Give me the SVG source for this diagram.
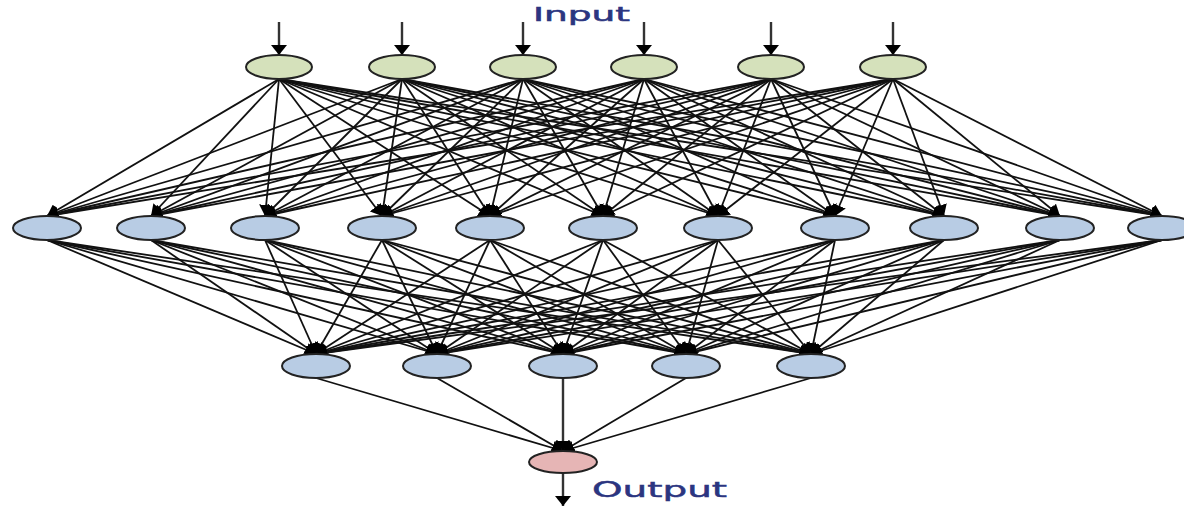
<svg xmlns="http://www.w3.org/2000/svg" width="1184" height="507" viewBox="0 0 1184 507">
<style>
.c line{stroke:#111;stroke-width:1.8;marker-end:url(#ah)}
.c line.io{stroke:#333;stroke-width:2.4;marker-end:url(#ahb)}
.n ellipse{stroke:#222;stroke-width:2}
.in{fill:#d5e1bb}
.hd{fill:#b8cce4}
.out{fill:#e6b5b5}
.lbl{font-family:"DejaVu Sans",Verdana,sans-serif;fill:#2b3580;stroke:#2b3580;stroke-width:0.5}
</style>
<defs>
<marker id="ah" markerUnits="userSpaceOnUse" markerWidth="11" markerHeight="14" refX="11" refY="7" orient="auto">
<path d="M0,0 L11,7 L0,14 z" fill="#000"/>
</marker>
<marker id="ahb" markerUnits="userSpaceOnUse" markerWidth="10" markerHeight="16" refX="10" refY="8" orient="auto">
<path d="M0,0 L10,8 L0,16 z" fill="#000"/>
</marker>
</defs>
<rect width="1184" height="507" fill="#fff"/>
<g id="connectors" class="c">
<line class="io" x1="279" y1="22" x2="279" y2="55"/>
<line class="io" x1="402" y1="22" x2="402" y2="55"/>
<line class="io" x1="523" y1="22" x2="523" y2="55"/>
<line class="io" x1="644" y1="22" x2="644" y2="55"/>
<line class="io" x1="771" y1="22" x2="771" y2="55"/>
<line class="io" x1="893" y1="22" x2="893" y2="55"/>

<line x1="279" y1="79" x2="47" y2="216"/><line x1="279" y1="79" x2="151" y2="216"/><line x1="279" y1="79" x2="265" y2="216"/><line x1="279" y1="79" x2="382" y2="216"/><line x1="279" y1="79" x2="490" y2="216"/><line x1="279" y1="79" x2="603" y2="216"/><line x1="279" y1="79" x2="718" y2="216"/><line x1="279" y1="79" x2="835" y2="216"/><line x1="279" y1="79" x2="944" y2="216"/><line x1="279" y1="79" x2="1060" y2="216"/><line x1="279" y1="79" x2="1162" y2="216"/>
<line x1="402" y1="79" x2="47" y2="216"/><line x1="402" y1="79" x2="151" y2="216"/><line x1="402" y1="79" x2="265" y2="216"/><line x1="402" y1="79" x2="382" y2="216"/><line x1="402" y1="79" x2="490" y2="216"/><line x1="402" y1="79" x2="603" y2="216"/><line x1="402" y1="79" x2="718" y2="216"/><line x1="402" y1="79" x2="835" y2="216"/><line x1="402" y1="79" x2="944" y2="216"/><line x1="402" y1="79" x2="1060" y2="216"/><line x1="402" y1="79" x2="1162" y2="216"/>
<line x1="523" y1="79" x2="47" y2="216"/><line x1="523" y1="79" x2="151" y2="216"/><line x1="523" y1="79" x2="265" y2="216"/><line x1="523" y1="79" x2="382" y2="216"/><line x1="523" y1="79" x2="490" y2="216"/><line x1="523" y1="79" x2="603" y2="216"/><line x1="523" y1="79" x2="718" y2="216"/><line x1="523" y1="79" x2="835" y2="216"/><line x1="523" y1="79" x2="944" y2="216"/><line x1="523" y1="79" x2="1060" y2="216"/><line x1="523" y1="79" x2="1162" y2="216"/>
<line x1="644" y1="79" x2="47" y2="216"/><line x1="644" y1="79" x2="151" y2="216"/><line x1="644" y1="79" x2="265" y2="216"/><line x1="644" y1="79" x2="382" y2="216"/><line x1="644" y1="79" x2="490" y2="216"/><line x1="644" y1="79" x2="603" y2="216"/><line x1="644" y1="79" x2="718" y2="216"/><line x1="644" y1="79" x2="835" y2="216"/><line x1="644" y1="79" x2="944" y2="216"/><line x1="644" y1="79" x2="1060" y2="216"/><line x1="644" y1="79" x2="1162" y2="216"/>
<line x1="771" y1="79" x2="47" y2="216"/><line x1="771" y1="79" x2="151" y2="216"/><line x1="771" y1="79" x2="265" y2="216"/><line x1="771" y1="79" x2="382" y2="216"/><line x1="771" y1="79" x2="490" y2="216"/><line x1="771" y1="79" x2="603" y2="216"/><line x1="771" y1="79" x2="718" y2="216"/><line x1="771" y1="79" x2="835" y2="216"/><line x1="771" y1="79" x2="944" y2="216"/><line x1="771" y1="79" x2="1060" y2="216"/><line x1="771" y1="79" x2="1162" y2="216"/>
<line x1="893" y1="79" x2="47" y2="216"/><line x1="893" y1="79" x2="151" y2="216"/><line x1="893" y1="79" x2="265" y2="216"/><line x1="893" y1="79" x2="382" y2="216"/><line x1="893" y1="79" x2="490" y2="216"/><line x1="893" y1="79" x2="603" y2="216"/><line x1="893" y1="79" x2="718" y2="216"/><line x1="893" y1="79" x2="835" y2="216"/><line x1="893" y1="79" x2="944" y2="216"/><line x1="893" y1="79" x2="1060" y2="216"/><line x1="893" y1="79" x2="1162" y2="216"/>

<line x1="47" y1="240" x2="316" y2="354"/><line x1="47" y1="240" x2="437" y2="354"/><line x1="47" y1="240" x2="563" y2="354"/><line x1="47" y1="240" x2="686" y2="354"/><line x1="47" y1="240" x2="811" y2="354"/>
<line x1="151" y1="240" x2="316" y2="354"/><line x1="151" y1="240" x2="437" y2="354"/><line x1="151" y1="240" x2="563" y2="354"/><line x1="151" y1="240" x2="686" y2="354"/><line x1="151" y1="240" x2="811" y2="354"/>
<line x1="265" y1="240" x2="316" y2="354"/><line x1="265" y1="240" x2="437" y2="354"/><line x1="265" y1="240" x2="563" y2="354"/><line x1="265" y1="240" x2="686" y2="354"/><line x1="265" y1="240" x2="811" y2="354"/>
<line x1="382" y1="240" x2="316" y2="354"/><line x1="382" y1="240" x2="437" y2="354"/><line x1="382" y1="240" x2="563" y2="354"/><line x1="382" y1="240" x2="686" y2="354"/><line x1="382" y1="240" x2="811" y2="354"/>
<line x1="490" y1="240" x2="316" y2="354"/><line x1="490" y1="240" x2="437" y2="354"/><line x1="490" y1="240" x2="563" y2="354"/><line x1="490" y1="240" x2="686" y2="354"/><line x1="490" y1="240" x2="811" y2="354"/>
<line x1="603" y1="240" x2="316" y2="354"/><line x1="603" y1="240" x2="437" y2="354"/><line x1="603" y1="240" x2="563" y2="354"/><line x1="603" y1="240" x2="686" y2="354"/><line x1="603" y1="240" x2="811" y2="354"/>
<line x1="718" y1="240" x2="316" y2="354"/><line x1="718" y1="240" x2="437" y2="354"/><line x1="718" y1="240" x2="563" y2="354"/><line x1="718" y1="240" x2="686" y2="354"/><line x1="718" y1="240" x2="811" y2="354"/>
<line x1="835" y1="240" x2="316" y2="354"/><line x1="835" y1="240" x2="437" y2="354"/><line x1="835" y1="240" x2="563" y2="354"/><line x1="835" y1="240" x2="686" y2="354"/><line x1="835" y1="240" x2="811" y2="354"/>
<line x1="944" y1="240" x2="316" y2="354"/><line x1="944" y1="240" x2="437" y2="354"/><line x1="944" y1="240" x2="563" y2="354"/><line x1="944" y1="240" x2="686" y2="354"/><line x1="944" y1="240" x2="811" y2="354"/>
<line x1="1060" y1="240" x2="316" y2="354"/><line x1="1060" y1="240" x2="437" y2="354"/><line x1="1060" y1="240" x2="563" y2="354"/><line x1="1060" y1="240" x2="686" y2="354"/><line x1="1060" y1="240" x2="811" y2="354"/>
<line x1="1162" y1="240" x2="316" y2="354"/><line x1="1162" y1="240" x2="437" y2="354"/><line x1="1162" y1="240" x2="563" y2="354"/><line x1="1162" y1="240" x2="686" y2="354"/><line x1="1162" y1="240" x2="811" y2="354"/>

<line x1="316" y1="378" x2="563" y2="451"/>
<line x1="437" y1="378" x2="563" y2="451"/>
<line class="io" x1="563" y1="378" x2="563" y2="451"/>
<line x1="686" y1="378" x2="563" y2="451"/>
<line x1="811" y1="378" x2="563" y2="451"/>

<line class="io" x1="563" y1="473" x2="563" y2="506"/>
</g>
<g id="input-layer" class="n">
<g id="in1"><ellipse class="in" cx="279" cy="67" rx="33" ry="12"/></g>
<g id="in2"><ellipse class="in" cx="402" cy="67" rx="33" ry="12"/></g>
<g id="in3"><ellipse class="in" cx="523" cy="67" rx="33" ry="12"/></g>
<g id="in4"><ellipse class="in" cx="644" cy="67" rx="33" ry="12"/></g>
<g id="in5"><ellipse class="in" cx="771" cy="67" rx="33" ry="12"/></g>
<g id="in6"><ellipse class="in" cx="893" cy="67" rx="33" ry="12"/></g>
</g>
<g id="hidden-layer-1" class="n">
<g id="h1_1"><ellipse class="hd" cx="47" cy="228" rx="34" ry="12"/></g>
<g id="h1_2"><ellipse class="hd" cx="151" cy="228" rx="34" ry="12"/></g>
<g id="h1_3"><ellipse class="hd" cx="265" cy="228" rx="34" ry="12"/></g>
<g id="h1_4"><ellipse class="hd" cx="382" cy="228" rx="34" ry="12"/></g>
<g id="h1_5"><ellipse class="hd" cx="490" cy="228" rx="34" ry="12"/></g>
<g id="h1_6"><ellipse class="hd" cx="603" cy="228" rx="34" ry="12"/></g>
<g id="h1_7"><ellipse class="hd" cx="718" cy="228" rx="34" ry="12"/></g>
<g id="h1_8"><ellipse class="hd" cx="835" cy="228" rx="34" ry="12"/></g>
<g id="h1_9"><ellipse class="hd" cx="944" cy="228" rx="34" ry="12"/></g>
<g id="h1_10"><ellipse class="hd" cx="1060" cy="228" rx="34" ry="12"/></g>
<g id="h1_11"><ellipse class="hd" cx="1162" cy="228" rx="34" ry="12"/></g>
</g>
<g id="hidden-layer-2" class="n">
<g id="h2_1"><ellipse class="hd" cx="316" cy="366" rx="34" ry="12"/></g>
<g id="h2_2"><ellipse class="hd" cx="437" cy="366" rx="34" ry="12"/></g>
<g id="h2_3"><ellipse class="hd" cx="563" cy="366" rx="34" ry="12"/></g>
<g id="h2_4"><ellipse class="hd" cx="686" cy="366" rx="34" ry="12"/></g>
<g id="h2_5"><ellipse class="hd" cx="811" cy="366" rx="34" ry="12"/></g>
</g>
<g id="output-node" class="n">
<ellipse class="out" cx="563" cy="462" rx="34" ry="11"/>
</g>
<g id="labels">
<text class="lbl" x="533" y="21" font-size="19" textLength="97" lengthAdjust="spacingAndGlyphs">Input</text>
<text class="lbl" x="592" y="497" font-size="22" textLength="135" lengthAdjust="spacingAndGlyphs">Output</text>
</g>
</svg>
